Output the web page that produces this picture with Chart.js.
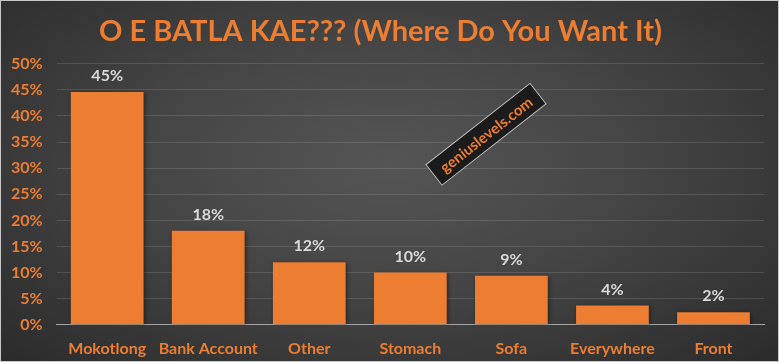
<!DOCTYPE html>
<html>
<head>
<meta charset="utf-8">
<script src="https://cdn.jsdelivr.net/npm/chart.js@4"></script>
<style>
  html, body { margin: 0; padding: 0; }
  #wrap {
    width: 779px; height: 362px; box-sizing: border-box;
    border: 1px solid #c8c8c8;
    background: radial-gradient(ellipse at 50% 45%, #555555 0%, #454545 45%, #2b2b2b 100%);
  }
</style>
</head>
<body>
<div id="wrap"><canvas id="chartContainer" width="777" height="360"></canvas></div>
<script>
// data
let places = ['Mokotlong', 'Bank Account', 'Other', 'Stomach', 'Sofa', 'Everywhere', 'Front'];
let shares = [44.6, 18, 12, 10, 9.4, 3.7, 2.4];
let yTicks = [0, 5, 10, 15, 20, 25, 30, 35, 40, 45, 50];

const orange = '#ED7D31';
const font = 'Lato';

// soft shadow under the bars, like the excel one
const barShadow = {
  id: 'barShadow',
  beforeDatasetsDraw(chart) {
    const ctx = chart.ctx;
    ctx.save();
    ctx.shadowColor = 'rgba(0,0,0,0.45)';
    ctx.shadowBlur = 4;
    ctx.shadowOffsetX = 1;
    ctx.shadowOffsetY = 1;
  },
  afterDatasetsDraw(chart) {
    chart.ctx.restore();
  }
};

// draws the % above each bar
const barLabels = {
  id: 'barLabels',
  afterDatasetsDraw(chart) {
    const ctx = chart.ctx;
    const meta = chart.getDatasetMeta(0);
    ctx.save();
    ctx.fillStyle = '#d9d9d9';
    ctx.font = 'bold 16px "' + font + '"';
    ctx.textAlign = 'center';
    ctx.textBaseline = 'bottom';
    meta.data.forEach((bar, i) => {
      ctx.fillText(Math.round(shares[i]) + '%', bar.x, bar.y - 8);
    });
    ctx.restore();
  }
};

// the little rotated watermark box
const watermark = {
  id: 'watermark',
  afterDraw(chart) {
    const ctx = chart.ctx;
    const a = chart.chartArea;
    const cx = a.left + (a.right - a.left) * 0.607;
    const cy = a.top + (a.bottom - a.top) * 0.27;
    ctx.save();
    ctx.translate(cx, cy);
    ctx.rotate(-38 * Math.PI / 180);
    ctx.fillStyle = '#1b1b1b';
    ctx.fillRect(-66, -13, 132, 26);
    ctx.strokeStyle = '#bdbdbd';
    ctx.lineWidth = 1;
    ctx.strokeRect(-66, -13, 132, 26);
    ctx.fillStyle = orange;
    ctx.font = 'bold 15px "' + font + '"';
    ctx.textAlign = 'center';
    ctx.textBaseline = 'middle';
    ctx.fillText('geniuslevels.com', 0, 1);
    ctx.restore();
  }
};

function appendChart() {
  let chartContainer = document.getElementById('chartContainer');
  new Chart(chartContainer, {
    type: 'bar',
    data: {
      labels: places,
      datasets: [{
        data: shares,
        backgroundColor: orange,
        borderWidth: 0,
        barPercentage: 0.72,
        categoryPercentage: 1
      }]
    },
    options: {
      responsive: false,
      animation: false,
      layout: { padding: { left: -4, right: 14, top: 0, bottom: -3 } },
      plugins: {
        legend: { display: false },
        tooltip: { enabled: false },
        title: {
          display: true,
          text: 'O E BATLA KAE??? (Where Do You Want It)',
          color: orange,
          font: { family: font, size: 29, weight: 'bold' },
          padding: { top: 13, bottom: 15 }
        }
      },
      scales: {
        x: {
          grid: { display: false },
          border: { color: '#a6a6a6', width: 1 },
          ticks: {
            color: orange, font: { family: font, size: 16, weight: 'bold' },
            padding: 6, maxRotation: 0, autoSkip: false
          }
        },
        y: {
          min: 0,
          max: 50,
          afterBuildTicks(scale) { scale.ticks = yTicks.map(v => ({ value: v })); },
          grid: { color: 'rgba(255,255,255,0.13)', drawTicks: false },
          border: { display: false },
          ticks: {
            color: orange,
            font: { family: font, size: 16, weight: 'bold' },
            padding: 14,
            callback: v => v + '%'
          }
        }
      }
    },
    plugins: [barShadow, barLabels, watermark]
  });
}

appendChart();
</script>
</body>
</html>
